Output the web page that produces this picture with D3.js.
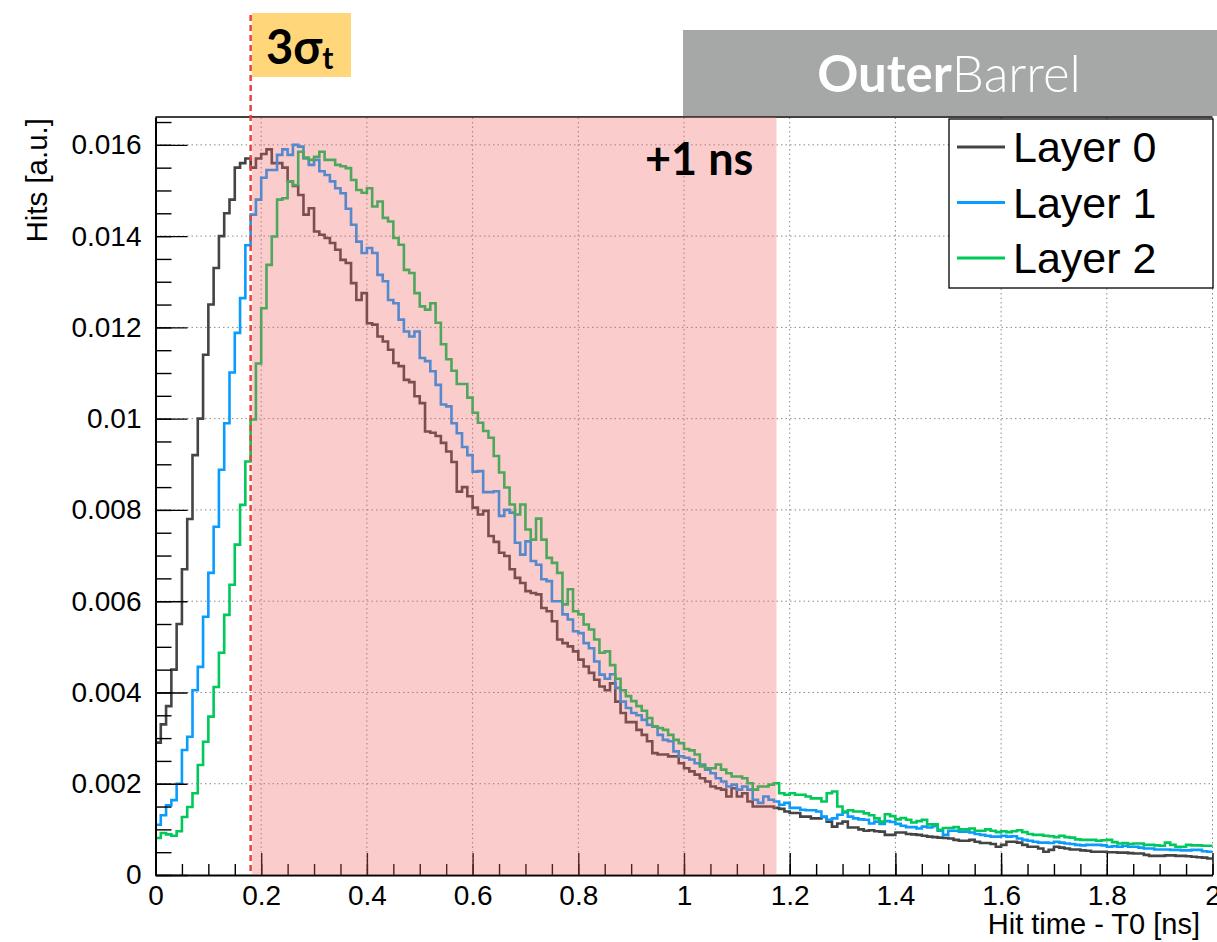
<!DOCTYPE html>
<html>
<head>
<meta charset="utf-8">
<script src="https://cdn.jsdelivr.net/npm/d3@7.9.0/dist/d3.min.js"></script>
<style>
  body { margin: 0; background: #fff; }
  svg { display: block; font-family: "Liberation Sans", Arial, sans-serif; }
</style>
</head>
<body>
<div id="chart"></div>
<script>
// hit time histograms, 200 bins of 0.01 ns from 0 to 2 ns
const binStart = 0;
const binWidth = 0.01;

const layerNames = ["Layer 0", "Layer 1", "Layer 2"];

const layer0 = [
  0.0029, 0.0033, 0.0037, 0.0045, 0.0055, 0.0067, 0.0078, 0.0092, 0.0100, 0.0114,
  0.0125, 0.0133, 0.0140, 0.0145, 0.0148, 0.0155, 0.0156, 0.0157, 0.0155, 0.0157,
  0.0158, 0.0159, 0.0156, 0.0156, 0.0155, 0.0152, 0.0151, 0.0149, 0.01447, 0.01461,
  0.0141, 0.01403, 0.01396, 0.01385, 0.0137, 0.01348, 0.01341, 0.01297, 0.0126, 0.01275,
  0.01209, 0.01206, 0.0118, 0.01169, 0.01151, 0.01122, 0.01115, 0.01085, 0.0108, 0.01049,
  0.01034, 0.00972, 0.00969, 0.00962, 0.00947, 0.00928, 0.00905, 0.0084, 0.0085, 0.0083,
  0.00805, 0.0079, 0.00798, 0.00743, 0.0073, 0.00706, 0.00699, 0.0067, 0.00651, 0.0064,
  0.00622, 0.00618, 0.00615, 0.00585, 0.00578, 0.00556, 0.00516, 0.00508, 0.00501, 0.0049,
  0.00472, 0.00457, 0.00443, 0.00428, 0.00413, 0.00405, 0.0042, 0.0038, 0.00355, 0.00335,
  0.00335, 0.00318, 0.00307, 0.00293, 0.00267, 0.00264, 0.00264, 0.0026, 0.0026, 0.00245,
  0.00234, 0.00227, 0.0022, 0.00212, 0.00205, 0.00194, 0.0019, 0.00187, 0.00172, 0.0019,
  0.00172, 0.00179, 0.00161, 0.0015, 0.0015, 0.0015, 0.0015, 0.00147, 0.00145, 0.00139,
  0.00136, 0.00136, 0.00128, 0.00128, 0.00124, 0.00124, 0.00127, 0.00117, 0.00106, 0.00113,
  0.00117, 0.00104, 0.00104, 0.001, 0.00097, 0.00098, 0.00096, 0.00095, 0.00088, 0.00088,
  0.00093, 0.00093, 0.0009, 0.00089, 0.00088, 0.00086, 0.00084, 0.00083, 0.00082, 0.00081,
  0.0008, 0.00077, 0.00075, 0.00075, 0.00077, 0.00073, 0.0007, 0.0007, 0.00068, 0.00062,
  0.00066, 0.00073, 0.00073, 0.00071, 0.00066, 0.00062, 0.00062, 0.00058, 0.00051, 0.00055,
  0.00062, 0.0006, 0.00058, 0.00056, 0.00056, 0.00054, 0.00053, 0.00051, 0.00051, 0.00051,
  0.0005, 0.0005, 0.00049, 0.00049, 0.00048, 0.00047, 0.00047, 0.00044, 0.00042, 0.00042,
  0.00042, 0.00043, 0.00043, 0.00042, 0.00042, 0.00041, 0.0004, 0.00039, 0.00038, 0.00036
];

const layer1 = [
  0.0011, 0.00131, 0.00153, 0.00164, 0.0020, 0.00274, 0.00303, 0.00405, 0.00456, 0.00566,
  0.00662, 0.00763, 0.00888, 0.0099, 0.01101, 0.01188, 0.01264, 0.0138, 0.01447, 0.0148,
  0.01528, 0.01545, 0.01545, 0.01578, 0.0159, 0.01578, 0.0160, 0.01596, 0.0157, 0.01556,
  0.01567, 0.01542, 0.01534, 0.0152, 0.01505, 0.01494, 0.0146, 0.01425, 0.01388, 0.01363,
  0.01374, 0.01363, 0.01315, 0.01301, 0.0126, 0.01253, 0.01217, 0.01191, 0.0118, 0.01191,
  0.01133, 0.01126, 0.01104, 0.01074, 0.01031, 0.01027, 0.0099, 0.00968, 0.00938, 0.0092,
  0.00884, 0.00885, 0.00839, 0.00839, 0.00841, 0.00787, 0.0080, 0.00794, 0.00728, 0.00702,
  0.00731, 0.00688, 0.0068, 0.00648, 0.00644, 0.006, 0.006, 0.00571, 0.0056, 0.00534,
  0.0053, 0.00508, 0.00497, 0.00468, 0.00439, 0.0043, 0.0044, 0.0041, 0.0038, 0.00366,
  0.00355, 0.0035, 0.0034, 0.00329, 0.00325, 0.00307, 0.00296, 0.00293, 0.00271, 0.0026,
  0.00257, 0.00253, 0.00245, 0.00242, 0.00231, 0.00223, 0.00212, 0.00205, 0.00194, 0.00198,
  0.00187, 0.00194, 0.00187, 0.00165, 0.00158, 0.00172, 0.00165, 0.00161, 0.00154, 0.00158,
  0.00147, 0.00147, 0.00143, 0.00142, 0.00142, 0.00139, 0.00128, 0.00121, 0.00124, 0.00132,
  0.00137, 0.00128, 0.00124, 0.00122, 0.00121, 0.00113, 0.00117, 0.00112, 0.00118, 0.00116,
  0.00112, 0.00108, 0.00105, 0.00105, 0.00102, 0.00106, 0.00104, 0.00107, 0.00097, 0.00088,
  0.00097, 0.00097, 0.00095, 0.00095, 0.00093, 0.0009, 0.00088, 0.00086, 0.00084, 0.00084,
  0.00086, 0.00084, 0.00085, 0.0008, 0.00077, 0.00075, 0.00073, 0.00071, 0.00071, 0.0007,
  0.00073, 0.00071, 0.00069, 0.00068, 0.00066, 0.00065, 0.00066, 0.00066, 0.00066, 0.00065,
  0.00062, 0.00063, 0.00062, 0.00064, 0.00062, 0.00062, 0.0006, 0.00058, 0.00058, 0.00056,
  0.00056, 0.00056, 0.00055, 0.00055, 0.00054, 0.00054, 0.00055, 0.00055, 0.00052, 0.00051
];

const layer2 = [
  0.00081, 0.00092, 0.00089, 0.00086, 0.00096, 0.00127, 0.00149, 0.00179, 0.00241, 0.00292,
  0.00347, 0.00412, 0.00487, 0.0057, 0.00636, 0.00724, 0.00811, 0.00906, 0.00998, 0.01121,
  0.01242, 0.01337, 0.01399, 0.0148, 0.01483, 0.0152, 0.01512, 0.01585, 0.01572, 0.01567,
  0.01574, 0.01585, 0.01567, 0.01567, 0.01556, 0.01553, 0.01549, 0.01523, 0.01501, 0.01495,
  0.01505, 0.01465, 0.01476, 0.0144, 0.01432, 0.01396, 0.01381, 0.01326, 0.01319, 0.01275,
  0.01246, 0.01239, 0.01253, 0.0121, 0.01163, 0.0113, 0.01105, 0.01076, 0.01076, 0.01046,
  0.01013, 0.00991, 0.00973, 0.00958, 0.00918, 0.00882, 0.00849, 0.00812, 0.0079, 0.00812,
  0.00757, 0.00735, 0.00781, 0.00735, 0.00695, 0.00684, 0.00662, 0.00593, 0.00626, 0.00578,
  0.00571, 0.00549, 0.00538, 0.00516, 0.00487, 0.0049, 0.0046, 0.0043, 0.00405, 0.00392,
  0.00381, 0.0037, 0.0036, 0.00344, 0.00326, 0.00322, 0.00318, 0.00307, 0.00296, 0.00289,
  0.00276, 0.00273, 0.00264, 0.00238, 0.00234, 0.00234, 0.00242, 0.00231, 0.00223, 0.00216,
  0.00216, 0.00212, 0.00201, 0.00187, 0.00194, 0.00194, 0.00198, 0.00201, 0.00179, 0.00176,
  0.00179, 0.00176, 0.00176, 0.00172, 0.00168, 0.00168, 0.00161, 0.00179, 0.00183, 0.0015,
  0.00139, 0.00142, 0.00139, 0.00139, 0.00135, 0.00131, 0.00124, 0.00117, 0.00133, 0.00129,
  0.00122, 0.00125, 0.00121, 0.00115, 0.00118, 0.00121, 0.00111, 0.00111, 0.00099, 0.00103,
  0.00103, 0.00105, 0.001, 0.001, 0.00102, 0.00097, 0.00097, 0.001, 0.00097, 0.00094,
  0.00096, 0.00094, 0.00096, 0.00098, 0.00094, 0.0009, 0.00088, 0.00088, 0.00086, 0.00085,
  0.00083, 0.00086, 0.00083, 0.00082, 0.00078, 0.00077, 0.00077, 0.00077, 0.00075, 0.00076,
  0.00077, 0.00072, 0.00069, 0.0007, 0.00068, 0.00069, 0.00069, 0.00066, 0.00066, 0.00065,
  0.00064, 0.00071, 0.00066, 0.00062, 0.00062, 0.00066, 0.00065, 0.00065, 0.00064, 0.00064
];

const xTicks = [0, 0.2, 0.4, 0.6, 0.8, 1, 1.2, 1.4, 1.6, 1.8, 2];
const yTicks = [0, 0.002, 0.004, 0.006, 0.008, 0.01, 0.012, 0.014, 0.016];

// 3 sigma_t cut and the +1 ns window after it
const cutTime = 0.18;
const windowEnd = 1.175;

const colors = ["#444444", "#0a9bff", "#00c85a"];

const width = 1217, height = 942;

const svg = d3.select("#chart")
    .append("svg")
    .attr("width", width)
    .attr("height", height);

let x = d3.scaleLinear().domain([0, 2]).range([155.5, 1212.5]);
let y = d3.scaleLinear().domain([0, 0.01661]).range([875, 117]);

// grid
let grid = svg.append("g")
    .attr("stroke", "#8a8a8a")
    .attr("stroke-width", 1)
    .attr("stroke-dasharray", "1.5,3");

grid.selectAll(".gx")
    .data(xTicks.filter(d => d > 0))
    .join("line")
    .attr("x1", d => x(d)).attr("x2", d => x(d))
    .attr("y1", y.range()[0]).attr("y2", y.range()[1]);

grid.selectAll(".gy")
    .data(yTicks.filter(d => d > 0))
    .join("line")
    .attr("x1", x.range()[0]).attr("x2", x.range()[1])
    .attr("y1", d => y(d)).attr("y2", d => y(d));

// histograms as steps
let step = d3.line()
    .x(d => x(d[0]))
    .y(d => y(d[1]))
    .curve(d3.curveStepAfter);

function histPoints(values) {
    let pts = values.map((v, i) => [binStart + i * binWidth, v]);
    pts.push([binStart + values.length * binWidth, values[values.length - 1]]);
    return pts;
}

[layer0, layer1, layer2].forEach((vals, i) => {
    svg.append("path")
        .attr("d", step(histPoints(vals)))
        .attr("fill", "none")
        .attr("stroke", colors[i])
        .attr("stroke-width", 2.6)
        .attr("stroke-linejoin", "miter");
});

// axes, ROOT style ticks pointing inwards
let fmt = d => d === 0 ? "0" : String(+d.toFixed(3));
let yMinor = d3.range(0, 34).map(i => i * 0.0005);
let xMinor = d3.range(0, 41).map(i => i * 0.05);

svg.append("g")
    .attr("transform", `translate(${x(0)},0)`)
    .call(d3.axisLeft(y).tickValues(yTicks).tickSize(-32).tickSizeOuter(0).tickPadding(14).tickFormat(fmt));
svg.append("g")
    .attr("transform", `translate(${x(0)},0)`)
    .call(d3.axisLeft(y).tickValues(yMinor).tickSize(-16).tickSizeOuter(0).tickFormat(""))
    .select(".domain").remove();

svg.append("g")
    .attr("transform", `translate(0,${y(0)})`)
    .call(d3.axisBottom(x).tickValues(xTicks).tickSize(-22).tickSizeOuter(0).tickPadding(10).tickFormat(fmt));
svg.append("g")
    .attr("transform", `translate(0,${y(0)})`)
    .call(d3.axisBottom(x).tickValues(xMinor).tickSize(-11).tickSizeOuter(0).tickFormat(""))
    .select(".domain").remove();

svg.selectAll(".tick line").attr("stroke", "#000").attr("stroke-width", 1.4);
svg.selectAll(".domain").attr("stroke", "#000").attr("stroke-width", 2);
svg.selectAll(".tick text")
    .attr("font-family", "'Liberation Sans', Arial, sans-serif")
    .attr("font-size", 28)
    .attr("fill", "#000");

// top of the frame
svg.append("line")
    .attr("x1", x(0)).attr("x2", x(2))
    .attr("y1", y.range()[1]).attr("y2", y.range()[1])
    .attr("stroke", "#000").attr("stroke-width", 1.6);

// axis titles
svg.append("text")
    .attr("transform", `translate(47,${y.range()[1] + 1}) rotate(-90)`)
    .attr("text-anchor", "end")
    .attr("font-size", 29.5)
    .text("Hits [a.u.]");

svg.append("text")
    .attr("x", 1200).attr("y", 934)
    .attr("text-anchor", "end")
    .attr("font-size", 29)
    .text("Hit time - T0 [ns]");

// +1 ns window (drawn on top of the curves)
svg.append("rect")
    .attr("x", x(cutTime) + 1.5)
    .attr("y", y.range()[1])
    .attr("width", x(windowEnd) - x(cutTime) - 1.5)
    .attr("height", y.range()[0] - y.range()[1])
    .attr("fill", "#f06464")
    .attr("opacity", 0.33);

// 3 sigma line
svg.append("line")
    .attr("x1", x(cutTime)).attr("x2", x(cutTime))
    .attr("y1", 15).attr("y2", y(0))
    .attr("stroke", "#e8433b")
    .attr("stroke-width", 2.5)
    .attr("stroke-dasharray", "6,4");

// legend
let legend = svg.append("g");
legend.append("rect")
    .attr("x", 949).attr("y", 119)
    .attr("width", 264).attr("height", 169)
    .attr("fill", "#fff")
    .attr("stroke", "#000")
    .attr("stroke-width", 1.3);

let rows = legend.selectAll(".row")
    .data(layerNames)
    .join("g")
    .attr("transform", (d, i) => `translate(0,${147 + i * 55.5})`);

rows.append("line")
    .attr("x1", 957).attr("x2", 1005)
    .attr("stroke", (d, i) => colors[i])
    .attr("stroke-width", 3);

rows.append("text")
    .attr("x", 1013).attr("y", 15)
    .attr("font-size", 43)
    .text(d => d);

// detector label
svg.append("rect")
    .attr("x", 683).attr("y", 30)
    .attr("width", width - 683).attr("height", 86)
    .attr("fill", "#a5a8a7");

let det = svg.append("text")
    .attr("x", 949).attr("y", 92)
    .attr("text-anchor", "middle")
    .attr("font-family", "Lato, 'Open Sans', sans-serif")
    .attr("font-size", 51)
    .attr("fill", "#fff");
det.append("tspan").attr("font-weight", 700).text("Outer");
det.append("tspan").attr("font-weight", 300).text("Barrel");

// 3 sigma_t tag
svg.append("rect")
    .attr("x", 252).attr("y", 13)
    .attr("width", 99).attr("height", 64)
    .attr("fill", "#ffd67a");

let sig = svg.append("text")
    .attr("x", 266).attr("y", 64)
    .attr("font-family", "Lato, 'Open Sans', sans-serif")
    .attr("font-weight", 700)
    .attr("font-size", 47)
    .attr("fill", "#000");
sig.append("tspan").text("3σ");
sig.append("tspan").attr("font-size", 30).attr("dy", 5).text("t");

svg.append("text")
    .attr("x", 645).attr("y", 175)
    .attr("font-family", "Lato, 'Open Sans', sans-serif")
    .attr("font-weight", 700)
    .attr("font-size", 45)
    .text("+1 ns");
</script>
</body>
</html>
